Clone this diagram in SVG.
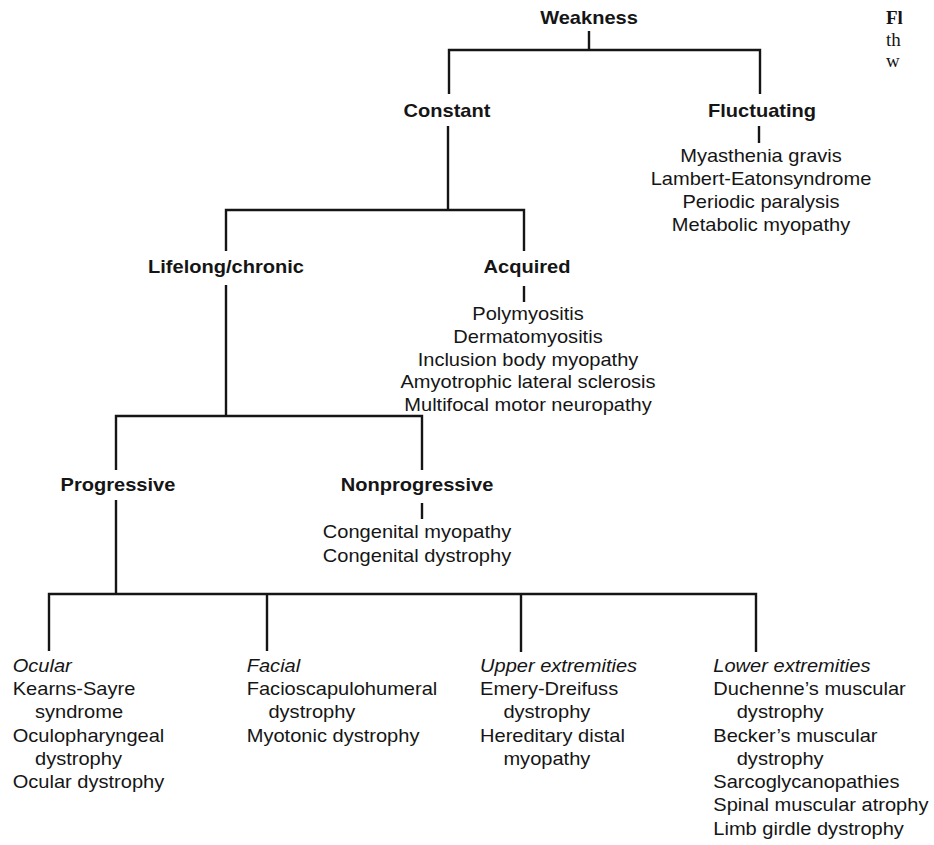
<svg xmlns="http://www.w3.org/2000/svg" width="934" height="845" viewBox="0 0 934 845">
<style>
text{font-family:"Liberation Sans",Arial,Helvetica,sans-serif;font-size:18px;fill:#151515}
.b{font-weight:bold}
.i{font-style:italic}
.m{text-anchor:middle}
.cap{font-family:"Liberation Serif","Times New Roman",serif;font-size:19px}
#connectors path{fill:none;stroke:#151515;stroke-width:2.4}
</style>
<rect width="934" height="845" fill="#fff"/>
<g id="connectors">
<path d="M589 31V50M449 94V50H760V94"/>
<path d="M759 126V143"/>
<path d="M448 126V210M226 251V210H524V251"/>
<path d="M524 286V302"/>
<path d="M226 285V416M116 470V416H422V470"/>
<path d="M422 503V519"/>
<path d="M116 500V594M49 651V594H756V652M267 594V651M521 594V652"/>
</g>
<g id="weakness"><text class="b m" transform="translate(589 0) scale(1.115 1)" y="24.5">Weakness</text></g>
<g id="constant"><text class="b m" transform="translate(447 0) scale(1.115 1)" y="117">Constant</text></g>
<g id="fluctuating">
<text class="b m" transform="translate(762 0) scale(1.115 1)" y="117">Fluctuating</text>
<text class="m" transform="translate(761 0) scale(1.115 1)" y="162.5"><tspan x="0">Myasthenia gravis</tspan><tspan x="0" dy="22.7">Lambert-Eatonsyndrome</tspan><tspan x="0" dy="22.7">Periodic paralysis</tspan><tspan x="0" dy="22.7">Metabolic myopathy</tspan></text>
</g>
<g id="lifelong"><text class="b m" transform="translate(226 0) scale(1.115 1)" y="273">Lifelong/chronic</text></g>
<g id="acquired">
<text class="b m" transform="translate(527 0) scale(1.115 1)" y="273">Acquired</text>
<text class="m" transform="translate(528 0) scale(1.115 1)" y="320"><tspan x="0">Polymyositis</tspan><tspan x="0" dy="22.8">Dermatomyositis</tspan><tspan x="0" dy="22.8">Inclusion body myopathy</tspan><tspan x="0" dy="22.8">Amyotrophic lateral sclerosis</tspan><tspan x="0" dy="22.8">Multifocal motor neuropathy</tspan></text>
</g>
<g id="progressive"><text class="b m" transform="translate(118 0) scale(1.115 1)" y="490.7">Progressive</text></g>
<g id="nonprogressive">
<text class="b m" transform="translate(417 0) scale(1.115 1)" y="490.7">Nonprogressive</text>
<text class="m" transform="translate(417 0) scale(1.115 1)" y="538.3"><tspan x="0">Congenital myopathy</tspan><tspan x="0" dy="23.3">Congenital dystrophy</tspan></text>
</g>
<g id="ocular">
<text transform="translate(12.7 0) scale(1.115 1)" y="671.7"><tspan x="0" class="i">Ocular</tspan><tspan x="0" dy="23.3">Kearns-Sayre</tspan><tspan x="20" dy="23.3">syndrome</tspan><tspan x="0" dy="23.3">Oculopharyngeal</tspan><tspan x="20" dy="23.3">dystrophy</tspan><tspan x="0" dy="23.3">Ocular dystrophy</tspan></text>
</g>
<g id="facial">
<text transform="translate(246.7 0) scale(1.115 1)" y="671.7"><tspan x="0" class="i">Facial</tspan><tspan x="0" dy="23.3">Facioscapulohumeral</tspan><tspan x="19.5" dy="23.3">dystrophy</tspan><tspan x="0" dy="23.3">Myotonic dystrophy</tspan></text>
</g>
<g id="upper">
<text transform="translate(480 0) scale(1.115 1)" y="671.7"><tspan x="0" class="i">Upper extremities</tspan><tspan x="0" dy="23.3">Emery-Dreifuss</tspan><tspan x="21" dy="23.3">dystrophy</tspan><tspan x="0" dy="23.3">Hereditary distal</tspan><tspan x="21" dy="23.3">myopathy</tspan></text>
</g>
<g id="lower">
<text transform="translate(713.3 0) scale(1.115 1)" y="671.7"><tspan x="0" class="i">Lower extremities</tspan><tspan x="0" dy="23.3">Duchenne’s muscular</tspan><tspan x="21" dy="23.3">dystrophy</tspan><tspan x="0" dy="23.3">Becker’s muscular</tspan><tspan x="21" dy="23.3">dystrophy</tspan><tspan x="0" dy="23.3">Sarcoglycanopathies</tspan><tspan x="0" dy="23.3">Spinal muscular atrophy</tspan><tspan x="0" dy="23.3">Limb girdle dystrophy</tspan></text>
</g>
<g id="caption-fragment">
<text class="cap b" x="886" y="24">Fl</text>
<text class="cap" x="886" y="46">th</text>
<text class="cap" x="886" y="67">w</text>
</g>
</svg>
